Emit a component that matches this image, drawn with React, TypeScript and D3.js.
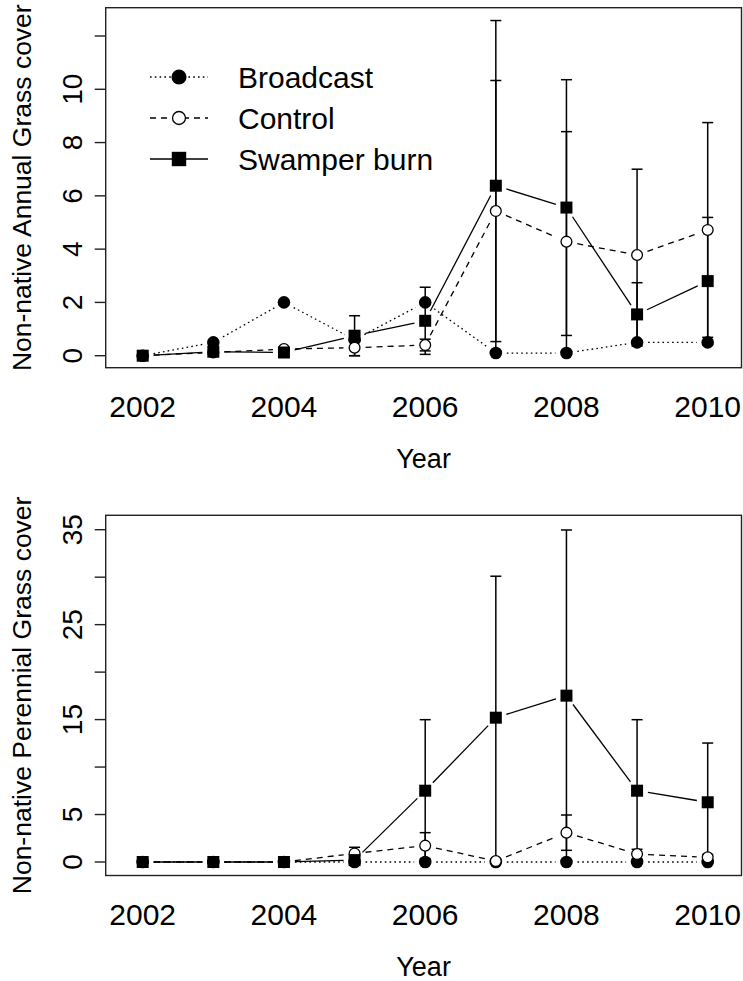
import React from "react";
import * as d3 from "d3";

// ---- data ----
const years = [2002, 2003, 2004, 2005, 2006, 2007, 2008, 2009, 2010];
const xTickYears = [2002, 2004, 2006, 2008, 2010];

// Annual grass (top panel)
const annualBroadcast = [0, 0.5, 2.0, 0.6, 2.0, 0.1, 0.1, 0.5, 0.5];
const annualControl = [0, 0.12, 0.25, 0.3, 0.4, 5.43, 4.28, 3.78, 4.72];
const annualControlErr = [0, 0, 0, 0.3, 0.22, 4.9, 4.13, 3.22, 4.03];
const annualSwamper = [0, 0.15, 0.12, 0.75, 1.31, 6.38, 5.56, 1.55, 2.8];
const annualSwamperErr = [0, 0, 0, 0.75, 1.26, 6.2, 4.8, 1.19, 2.39];
const annualTicks = [0, 2, 4, 6, 8, 10, 12];
const annualTickLabels = ["0", "2", "4", "6", "8", "10", ""];

// Perennial grass (bottom panel)
const perennialBroadcast = [0, 0, 0, 0, 0, 0, 0, 0, 0];
const perennialControl = [0, 0, 0, 0.9, 1.72, 0.1, 3.09, 0.84, 0.49];
const perennialControlErr = [0, 0, 0, 0.65, 1.37, 0, 1.86, 0.5, 0.3];
const perennialSwamper = [0, 0, 0, 0.2, 7.51, 15.2, 17.52, 7.51, 6.29];
const perennialSwamperErr = [0, 0, 0, 0.3, 7.48, 14.9, 17.45, 7.48, 6.24];
const perennialTicks = [0, 5, 10, 15, 20, 25, 30, 35];
const perennialTickLabels = ["0", "5", "", "15", "", "25", "", "35"];

const legendLabels = ["Broadcast", "Control", "Swamper burn"];

const FONT = "'Liberation Sans', Arial, Helvetica, sans-serif";

type Panel = {
  title: string;
  broadcast: number[];
  control: number[];
  controlErr: number[];
  swamper: number[];
  swamperErr: number[];
  ticks: number[];
  tickLabels: string[];
  boxTop: number;
  boxBottom: number;
  y0: number;
  yMaxTick: number;
  yMaxPx: number;
  legend: boolean;
};

const panels: Panel[] = [
  {
    title: "Non-native Annual Grass cover",
    broadcast: annualBroadcast,
    control: annualControl,
    controlErr: annualControlErr,
    swamper: annualSwamper,
    swamperErr: annualSwamperErr,
    ticks: annualTicks,
    tickLabels: annualTickLabels,
    boxTop: 7.7,
    boxBottom: 367.7,
    y0: 355.7,
    yMaxTick: 12,
    yMaxPx: 36.0,
    legend: true,
  },
  {
    title: "Non-native Perennial Grass cover",
    broadcast: perennialBroadcast,
    control: perennialControl,
    controlErr: perennialControlErr,
    swamper: perennialSwamper,
    swamperErr: perennialSwamperErr,
    ticks: perennialTicks,
    tickLabels: perennialTickLabels,
    boxTop: 515.3,
    boxBottom: 875.5,
    y0: 862,
    yMaxTick: 35,
    yMaxPx: 529.7,
    legend: false,
  },
];

const BOX_LEFT = 105.7;
const BOX_RIGHT = 741.5;
const x = d3.scaleLinear().domain([2002, 2010]).range([142.7, 707.7]);

const GAP = 11;

function gappedSegments(pts: [number, number][]) {
  const segs: [number, number, number, number][] = [];
  for (let i = 0; i < pts.length - 1; i++) {
    const [x1, y1] = pts[i];
    const [x2, y2] = pts[i + 1];
    const dx = x2 - x1;
    const dy = y2 - y1;
    const len = Math.hypot(dx, dy);
    if (len <= 2 * GAP) continue;
    const ux = dx / len;
    const uy = dy / len;
    segs.push([x1 + ux * GAP, y1 + uy * GAP, x2 - ux * GAP, y2 - uy * GAP]);
  }
  return segs;
}

const DOTTED = "1.6,3.2";
const DASHED = "6,5";

function Marker({ kind, cx, cy, s = 1 }: { kind: number; cx: number; cy: number; s?: number }) {
  if (kind === 0) return <circle cx={cx} cy={cy} r={6.3 * s} fill="#000" />;
  if (kind === 1)
    return <circle cx={cx} cy={cy} r={5.4 * s} fill="#fff" stroke="#000" strokeWidth={1.3} />;
  return <rect x={cx - 6 * s} y={cy - 6 * s} width={12 * s} height={12 * s} fill="#000" />;
}

function PanelView({ p }: { p: Panel }) {
  const y = d3.scaleLinear().domain([0, p.yMaxTick]).range([p.y0, p.yMaxPx]);
  const series = [
    { vals: p.broadcast, dash: DOTTED, kind: 0 },
    { vals: p.control, dash: DASHED, kind: 1 },
    { vals: p.swamper, dash: "none", kind: 2 },
  ];
  const errs = [
    { vals: p.control, err: p.controlErr },
    { vals: p.swamper, err: p.swamperErr },
  ];
  const cap = 5.5;
  const titleCenter = (p.boxTop + p.boxBottom) / 2;
  return (
    <g>
      {errs.map((e, si) =>
        years.map((yr, i) => {
          if (!e.err[i]) return null;
          const cx = x(yr);
          const yt = y(e.vals[i] + e.err[i]);
          const yb = y(Math.max(e.vals[i] - e.err[i], -0.4));
          return (
            <g key={`e${si}-${i}`} stroke="#000" strokeWidth={1.5}>
              <line x1={cx} x2={cx} y1={yt} y2={yb} />
              <line x1={cx - cap} x2={cx + cap} y1={yt} y2={yt} />
              <line x1={cx - cap} x2={cx + cap} y1={yb} y2={yb} />
            </g>
          );
        })
      )}
      {series.map((s, si) => {
        const pts = years.map((yr, i) => [x(yr), y(s.vals[i])] as [number, number]);
        return gappedSegments(pts).map((sg, k) => (
          <line
            key={`l${si}-${k}`}
            x1={sg[0]}
            y1={sg[1]}
            x2={sg[2]}
            y2={sg[3]}
            stroke="#000"
            strokeWidth={1.3}
            strokeDasharray={s.dash}
          />
        ));
      })}
      {series.map((s, si) =>
        years.map((yr, i) => (
          <Marker key={`m${si}-${i}`} kind={s.kind} cx={x(yr)} cy={y(s.vals[i])} />
        ))
      )}
      <rect
        x={BOX_LEFT}
        y={p.boxTop}
        width={BOX_RIGHT - BOX_LEFT}
        height={p.boxBottom - p.boxTop}
        fill="none"
        stroke="#222"
        strokeWidth={1.4}
      />
      {p.ticks.map((t, i) => (
        <g key={`t${i}`}>
          <line x1={BOX_LEFT - 11} x2={BOX_LEFT} y1={y(t)} y2={y(t)} stroke="#222" strokeWidth={1.4} />
          {p.tickLabels[i] ? (
            <text
              transform={`translate(81.5,${y(t)}) rotate(-90)`}
              textAnchor="middle"
              fontFamily={FONT}
              fontSize={28}
            >
              {p.tickLabels[i]}
            </text>
          ) : null}
        </g>
      ))}
      {xTickYears.map((yr) => (
        <text
          key={`x${yr}`}
          x={x(yr)}
          y={p.boxBottom + 49}
          textAnchor="middle"
          fontFamily={FONT}
          fontSize={30}
        >
          {yr}
        </text>
      ))}
      <text
        x={(BOX_LEFT + BOX_RIGHT) / 2}
        y={p.boxBottom + 100}
        textAnchor="middle"
        fontFamily={FONT}
        fontSize={27}
      >
        Year
      </text>
      <text
        transform={`translate(31,${titleCenter}) rotate(-90)`}
        textAnchor="middle"
        fontFamily={FONT}
        fontSize={26.5}
      >
        {p.title}
      </text>
      {p.legend &&
        legendLabels.map((lab, i) => {
          const ly = 77 + i * 41;
          const dash = series[i].dash;
          return (
            <g key={`lg${i}`}>
              <line x1={150} x2={208} y1={ly} y2={ly} stroke="#000" strokeWidth={1.3} strokeDasharray={dash} />
              <Marker kind={series[i].kind} cx={179} cy={ly} s={1.2} />
              <text x={238} y={ly} dominantBaseline="central" fontFamily={FONT} fontSize={30}>
                {lab}
              </text>
            </g>
          );
        })}
    </g>
  );
}

export default function App() {
  return (
    <svg
      width={743}
      height={981}
      viewBox="0 0 743 981"
      style={{ position: "absolute", left: 0, top: 0, background: "#fff" }}
    >
      <rect x={0} y={0} width={743} height={981} fill="#fff" />
      {panels.map((p, i) => (
        <PanelView key={i} p={p} />
      ))}
    </svg>
  );
}
